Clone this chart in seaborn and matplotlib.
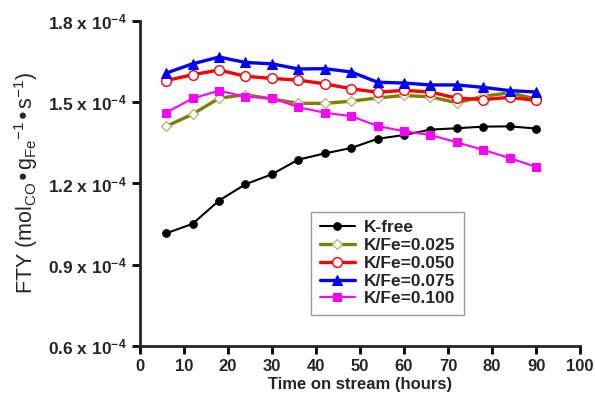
import numpy as np
import pandas as pd
import matplotlib
matplotlib.use("Agg")
import matplotlib.pyplot as plt
import seaborn as sns

# Time on stream (hours)
hours = [6, 12, 18, 24, 30, 36, 42, 48, 54, 60, 66, 72, 78, 84, 90]

# FTY values in units of 1e-4 mol_CO g_Fe^-1 s^-1
k_free = [1.016, 1.051, 1.137, 1.197, 1.234, 1.288, 1.311, 1.331, 1.365, 1.379, 1.399, 1.404, 1.410, 1.411, 1.403]
k_025 = [1.411, 1.456, 1.515, 1.528, 1.512, 1.496, 1.496, 1.504, 1.516, 1.525, 1.520, 1.498, 1.522, 1.535, 1.512]
k_050 = [1.580, 1.602, 1.619, 1.596, 1.588, 1.582, 1.568, 1.550, 1.537, 1.544, 1.538, 1.515, 1.510, 1.518, 1.507]
k_075 = [1.608, 1.642, 1.667, 1.647, 1.642, 1.623, 1.624, 1.612, 1.574, 1.571, 1.564, 1.564, 1.555, 1.543, 1.538]
k_100 = [1.462, 1.514, 1.543, 1.520, 1.515, 1.482, 1.461, 1.449, 1.412, 1.393, 1.379, 1.352, 1.324, 1.294, 1.261]

y_ticks = [0.6, 0.9, 1.2, 1.5, 1.8]
x_ticks = list(range(0, 101, 10))

sns.set_style("ticks")
plt.rcParams["font.family"] = ["Liberation Sans", "DejaVu Sans"]
plt.rcParams["mathtext.default"] = "regular"

series = [
    ("K-free", k_free, dict(color="black", lw=1.5, marker="o", ms=5.5, mfc="black", mec="black")),
    ("K/Fe=0.025", k_025, dict(color="#808000", lw=2.4, marker="D", ms=5.5, mfc="white", mec="#b8b880", mew=1.0)),
    ("K/Fe=0.050", k_050, dict(color="#ff0000", lw=2.4, marker="o", ms=7, mfc="white", mec="#ff0000", mew=1.0)),
    ("K/Fe=0.075", k_075, dict(color="#0000ff", lw=2.4, marker="^", ms=7, mfc="#0000ff", mec="#0000ff")),
    ("K/Fe=0.100", k_100, dict(color="#ff00ff", lw=1.5, marker="s", ms=5.5, mfc="#ff00ff", mec="#ff00ff")),
]

fig = plt.figure(figsize=(5.95, 4.05), dpi=100)
ax = fig.add_axes([0.235, 0.146, 0.74, 0.802])

for name, vals, st in series:
    df = pd.DataFrame({"hours": hours, "fty": vals})
    sns.lineplot(data=df, x="hours", y="fty", ax=ax, label=name, **st)

ax.set_xlim(0, 100)
ax.set_ylim(0.6, 1.8)
ax.set_xticks(x_ticks)
ax.set_xticklabels([str(t) for t in x_ticks], fontweight="bold", fontsize=12)
ax.set_yticks(y_ticks)
ax.set_yticklabels([f"{t:.1f} x 10$^{{-4}}$" for t in y_ticks], fontweight="bold", fontsize=12.5)

for side in ["top", "right"]:
    ax.spines[side].set_visible(False)
for side in ["left", "bottom"]:
    ax.spines[side].set_linewidth(2)
ax.tick_params(axis="both", width=2, length=6, direction="out", color="black")

ax.set_xlabel("Time on stream (hours)", fontweight="bold", fontsize=12, labelpad=2)
ax.set_ylabel(r"FTY (mol$_{CO}$•g$_{Fe}$$^{-1}$•s$^{-1}$)", fontsize=15.5, labelpad=6)

leg = ax.legend(loc="upper left", bbox_to_anchor=(0.37, 0.44), frameon=True, fancybox=False,
                prop={"weight": "bold", "size": 12.5}, handlelength=2.0, borderpad=0.5,
                labelspacing=0.15, handletextpad=0.5)
leg.get_frame().set_edgecolor("gray")
leg.get_frame().set_linewidth(1)

fig.savefig("out.png", dpi=100)
